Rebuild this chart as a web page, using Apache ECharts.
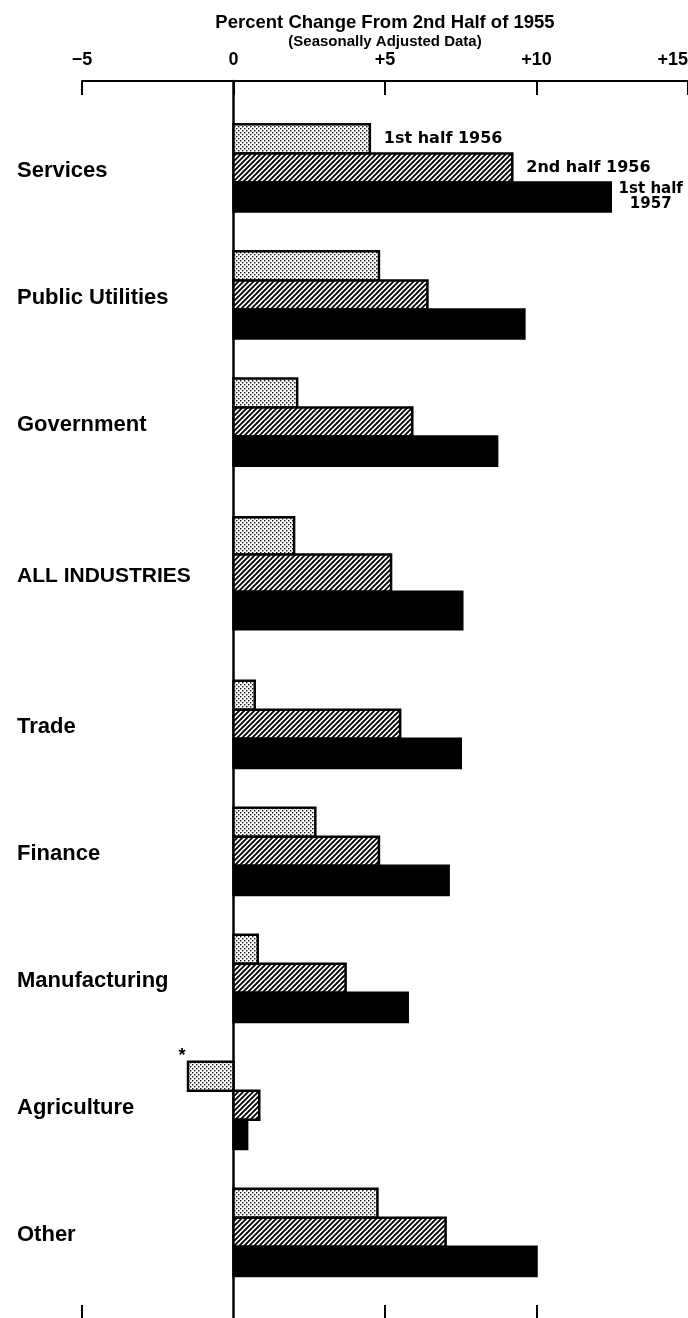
<!DOCTYPE html>
<html>
<head>
<meta charset="utf-8">
<title>Percent Change From 2nd Half of 1955</title>
<script src="https://cdn.jsdelivr.net/npm/echarts@6/dist/echarts.min.js"></script>
<style>
  html, body { margin: 0; padding: 0; background: #fff; }
  #chart { width: 688px; height: 1318px; }
</style>
</head>
<body>
<div id="chart"></div>
<script>
// industries, top to bottom
const categories = ['Services', 'Public Utilities', 'Government', 'ALL INDUSTRIES', 'Trade', 'Finance', 'Manufacturing', 'Agriculture', 'Other'];
// percent change from 2nd half of 1955 (seasonally adjusted)
const firstHalf1956 = [4.5, 4.8, 2.1, 2.0, 0.7, 2.7, 0.8, -1.5, 4.75];
const secondHalf1956 = [9.2, 6.4, 5.9, 5.2, 5.5, 4.8, 3.7, 0.85, 7.0];
const firstHalf1957 = [12.45, 9.6, 8.7, 7.55, 7.5, 7.1, 5.75, 0.45, 10.0];
const periodNames = ['1st half 1956', '2nd half 1956', '1st half\n1957'];
const footnotes = ['', '', '', '', '', '', '', '*', ''];
const bottomTicks = [-5, 5, 10];
const chartTitle = 'Percent Change From 2nd Half of 1955';
const chartSubtitle = '(Seasonally Adjusted Data)';

const featured = 'ALL INDUSTRIES';
// the summary row gets a bit more room around it
const featuredGap = 0.19;
const slotOf = i => i + (i >= 3 ? featuredGap : 0) + (i >= 4 ? featuredGap : 0);
const slots = categories.map((c, i) => slotOf(i));

const LIB = "'Liberation Sans', Arial, sans-serif";
const DEJ = "'DejaVu Sans', sans-serif";

// fill patterns: stipple and diagonal hatch
function makeStipple() {
  const c = document.createElement('canvas');
  c.width = 4; c.height = 4;
  const g = c.getContext('2d');
  g.fillStyle = '#fff';
  g.fillRect(0, 0, 4, 4);
  g.fillStyle = '#111';
  g.fillRect(0, 0, 1.4, 1.4);
  g.fillRect(2, 2, 1.4, 1.4);
  return c;
}
function makeHatch() {
  const s = 5;
  const c = document.createElement('canvas');
  c.width = s; c.height = s;
  const g = c.getContext('2d');
  g.fillStyle = '#fff';
  g.fillRect(0, 0, s, s);
  g.strokeStyle = '#000';
  g.lineWidth = 1.9;
  g.beginPath();
  g.moveTo(0, s); g.lineTo(s, 0);
  g.moveTo(-1, 1); g.lineTo(1, -1);
  g.moveTo(s - 1, s + 1); g.lineTo(s + 1, s - 1);
  g.stroke();
  return c;
}
const fills = [
  { image: makeStipple(), repeat: 'repeat' },
  { image: makeHatch(), repeat: 'repeat' },
  '#000'
];

function renderPeriod(k) {
  return function (params, api) {
    const value = api.value(0);
    const slot = api.value(1);
    const i = api.value(2);
    const unit = api.size([0, 1])[1];
    const h = unit * (categories[i] === featured ? 0.294 : 0.229);
    const base = api.coord([0, slot]);
    const end = api.coord([value, slot]);
    const top = base[1] - 1.5 * h + k * h;
    const left = Math.min(base[0], end[0]);
    const children = [{
      type: 'rect',
      shape: { x: left, y: top, width: Math.abs(end[0] - base[0]), height: h },
      style: { fill: fills[k], stroke: '#000', lineWidth: 2.5 }
    }];
    if (i === 0) {
      children.push({
        type: 'text',
        style: {
          text: periodNames[k],
          x: k === 2 ? end[0] + 40 : end[0] + 14,
          y: top + h / 2,
          align: k === 2 ? 'center' : 'left',
          verticalAlign: 'middle',
          font: 'bold ' + (k === 2 ? 15 : 16) + 'px ' + DEJ,
          lineHeight: 15,
          fill: '#000'
        }
      });
    }
    if (k === 0 && footnotes[i]) {
      children.push({
        type: 'text',
        style: {
          text: footnotes[i], x: left - 6, y: top - 6,
          align: 'center', verticalAlign: 'middle',
          font: 'bold 18px ' + LIB, fill: '#000'
        }
      });
    }
    return { type: 'group', children: children };
  };
}

const periods = [firstHalf1956, secondHalf1956, firstHalf1957];

const chart = echarts.init(document.getElementById('chart'));
chart.setOption({
  animation: false,
  backgroundColor: '#fff',
  grid: { left: 82, right: 0, top: 81, bottom: 0, outerBoundsMode: 'none' },
  xAxis: [
    {
      type: 'value',
      position: 'top',
      min: -5,
      max: 15,
      interval: 5,
      axisLine: { show: true, onZero: false, lineStyle: { color: '#000', width: 2 } },
      axisTick: { show: true, inside: true, length: 14, lineStyle: { color: '#000', width: 2 } },
      axisLabel: {
        margin: 12,
        color: '#000',
        fontFamily: LIB,
        fontSize: 18,
        fontWeight: 'bold',
        alignMaxLabel: 'right',
        formatter: v => (v > 0 ? '+' + v : v < 0 ? '\u2212' + Math.abs(v) : '0')
      },
      splitLine: { show: false }
    },
    {
      type: 'value',
      position: 'bottom',
      min: -5,
      max: 15,
      interval: 5,
      axisLine: { show: false, onZero: false },
      axisLabel: { show: false },
      axisTick: { show: true, inside: true, length: 13, customValues: bottomTicks, lineStyle: { color: '#000', width: 2 } },
      splitLine: { show: false }
    }
  ],
  yAxis: {
    type: 'value',
    inverse: true,
    min: -0.685,
    max: 9.055,
    axisLine: { show: true, onZero: true, lineStyle: { color: '#000', width: 2.5 } },
    axisTick: { show: false },
    splitLine: { show: false },
    axisLabel: {
      customValues: slots,
      align: 'left',
      // labels hang off the grid's left edge (x = 82), start them at x = 17
      margin: 65,
      color: '#000',
      formatter: v => {
        const i = slots.findIndex(s => Math.abs(s - v) < 1e-6);
        if (i < 0) return '';
        return categories[i] === featured ? '{big|' + categories[i] + '}' : '{cat|' + categories[i] + '}';
      },
      rich: {
        cat: { fontFamily: LIB, fontSize: 22, fontWeight: 'bold', color: '#000', padding: [6, 0, 0, 0] },
        big: { fontFamily: LIB, fontSize: 21, fontWeight: 'bold', color: '#000', padding: [6, 0, 0, 0] }
      }
    }
  },
  series: periods.map((values, k) => ({
    type: 'custom',
    name: periodNames[k],
    xAxisIndex: 0,
    renderItem: renderPeriod(k),
    encode: { x: 0, y: 1 },
    data: values.map((v, i) => [v, slots[i], i])
  }))
});

// heading centred over the +5 tick
const headX = chart.convertToPixel({ xAxisIndex: 0 }, 5);
chart.setOption({
  graphic: [
    {
      type: 'text', x: headX, y: 23,
      style: { text: chartTitle, align: 'center', verticalAlign: 'middle', font: 'bold 18.5px ' + LIB, fill: '#000' }
    },
    {
      type: 'text', x: headX, y: 42,
      style: { text: chartSubtitle, align: 'center', verticalAlign: 'middle', font: 'bold 15px ' + LIB, fill: '#000' }
    }
  ]
});
</script>
</body>
</html>
